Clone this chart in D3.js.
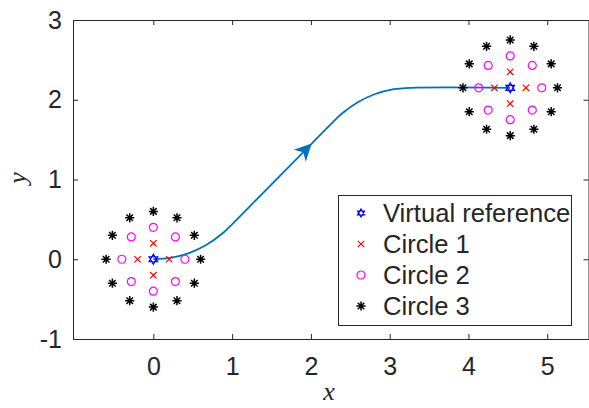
<!DOCTYPE html>
<html>
<head>
<meta charset="utf-8">
<script src="https://cdn.jsdelivr.net/npm/d3@7"></script>
<style>
  body { margin: 0; background: #fff; }
  text { font-family: "Liberation Sans", Arial, sans-serif; fill: #262626; }
</style>
</head>
<body>
<div id="chart"></div>
<script>
// centers of the circle groups (virtual reference start / end)
var refX = [0, 4.53];
var refY = [0, 2.15];

// offsets of the markers around each center
var c1Dx = [0.2, 0, -0.2, 0];
var c1Dy = [0, 0.2, 0, -0.2];
var c2Dx = [0.4, 0.28, 0, -0.28, -0.4, -0.28, 0, 0.28];
var c2Dy = [0, 0.28, 0.4, 0.28, 0, -0.28, -0.4, -0.28];
var c3Dx = [0.6, 0.52, 0.3, 0, -0.3, -0.52, -0.6, -0.52, -0.3, 0, 0.3, 0.52];
var c3Dy = [0, 0.3, 0.52, 0.6, 0.52, 0.3, 0, -0.3, -0.52, -0.6, -0.52, -0.3];

// trajectory
var pathX = [0, 0.234, 0.462, 0.675, 0.868, 0.955, 1.4, 1.87, 2.314, 2.402, 2.595, 2.808, 3.036, 3.27, 4.53];
var pathY = [0, 0.021, 0.081, 0.181, 0.316, 0.396, 0.84, 1.31, 1.754, 1.834, 1.969, 2.069, 2.13, 2.15, 2.15];
var arrowX = 2.01, arrowY = 1.45;

var xTicks = [0, 1, 2, 3, 4, 5];
var yTicks = [-1, 0, 1, 2, 3];
var legendLabels = ["Virtual reference", "Circle 1", "Circle 2", "Circle 3"];

var width = 589, height = 408;
var margin = {left: 73, right: 589, top: 20, bottom: 339};
var axisColor = "#262626";

var svg = d3.select("#chart").append("svg")
    .attr("width", width)
    .attr("height", height);

var x = d3.scaleLinear().domain([-1.02, 5.53]).range([margin.left, margin.right]);
var y = d3.scaleLinear().domain([-1, 3]).range([margin.bottom, margin.top]);

// axes (box with inward ticks)
function styleAxis(g) {
  g.select(".domain").attr("stroke", axisColor);
  g.selectAll(".tick line").attr("stroke", axisColor);
  g.selectAll(".tick text").attr("fill", axisColor).style("font-size", "25px");
}
var plain = function (d) { return String(d); };

svg.append("g")
    .attr("transform", "translate(0," + margin.bottom + ")")
    .call(d3.axisBottom(x).tickValues(xTicks).tickSizeInner(-5).tickSizeOuter(0).tickPadding(18).tickFormat(plain))
    .call(styleAxis);
svg.append("g")
    .attr("transform", "translate(0," + margin.top + ")")
    .call(d3.axisTop(x).tickValues(xTicks).tickSizeInner(-5).tickSizeOuter(0).tickFormat(""))
    .call(styleAxis);
svg.append("g")
    .attr("transform", "translate(" + margin.left + ",0)")
    .call(d3.axisLeft(y).tickValues(yTicks).tickSizeInner(-5).tickSizeOuter(0).tickPadding(11).tickFormat(plain))
    .call(styleAxis);
svg.append("g")
    .attr("transform", "translate(" + (margin.right - 0.5) + ",0)")
    .call(d3.axisRight(y).tickValues(yTicks).tickSizeInner(-5).tickSizeOuter(0).tickFormat(""))
    .call(styleAxis);

// axis labels
svg.append("text")
    .attr("x", (margin.left + margin.right) / 2 - 2)
    .attr("y", 400)
    .attr("text-anchor", "middle")
    .style("font-family", "'Liberation Serif', serif")
    .style("font-style", "italic")
    .style("font-size", "26px")
    .text("x");
svg.append("text")
    .attr("transform", "translate(26,178) rotate(-90)")
    .attr("text-anchor", "middle")
    .style("font-family", "'Liberation Serif', serif")
    .style("font-style", "italic")
    .style("font-size", "26px")
    .text("y");

// marker shapes
function hexagram(r) {
  var p = "";
  [[-90, 30, 150], [90, 210, 330]].forEach(function (tri) {
    tri.forEach(function (a, i) {
      var t = a * Math.PI / 180;
      p += (i ? "L" : "M") + (r * Math.cos(t)).toFixed(2) + "," + (r * Math.sin(t)).toFixed(2);
    });
    p += "Z";
  });
  return p;
}
function cross(r) {
  return "M" + -r + "," + -r + "L" + r + "," + r + "M" + -r + "," + r + "L" + r + "," + -r;
}
function asterisk(r) {
  var d = r * 0.7071;
  return "M" + -r + ",0L" + r + ",0M0," + -r + "L0," + r +
         "M" + -d + "," + -d + "L" + d + "," + d + "M" + -d + "," + d + "L" + d + "," + -d;
}

// trajectory
var pts = pathX.map(function (v, i) { return [x(v), y(pathY[i])]; });
svg.append("path")
    .attr("d", d3.line().curve(d3.curveCatmullRom)(pts))
    .attr("fill", "none")
    .attr("stroke", "#0072BD")
    .attr("stroke-width", 1.8);

// arrow head along the 45 degree section
var ang = Math.atan2(y(1.754) - y(0.396), x(2.314) - x(0.955)) * 180 / Math.PI;
svg.append("path")
    .attr("transform", "translate(" + x(arrowX) + "," + y(arrowY) + ") rotate(" + ang + ")")
    .attr("d", "M0,0L-17,-8.5L-12,0L-17,8.5Z")
    .attr("fill", "#0072BD");

// circle groups at both centers
var groups = [
  {dx: c3Dx, dy: c3Dy, shape: "ast"},
  {dx: c2Dx, dy: c2Dy, shape: "o"},
  {dx: c1Dx, dy: c1Dy, shape: "x"}
];

function drawMarker(g, shape, big) {
  if (shape === "o") {
    g.append("circle").attr("r", 4).attr("fill", "none").attr("stroke", "#ff00ff").attr("stroke-width", 1.2);
  } else if (shape === "x") {
    g.append("path").attr("d", cross(3.2)).attr("stroke", "#ff0000").attr("stroke-width", 1.2);
  } else if (shape === "ast") {
    g.append("path").attr("d", asterisk(4.6)).attr("stroke", "#000").attr("stroke-width", 1.5);
  } else {
    g.append("path").attr("d", hexagram(big ? 5 : 4)).attr("fill", "none").attr("stroke", "#0000ff").attr("stroke-width", 1.2);
  }
}

refX.forEach(function (cx, k) {
  var cy = refY[k];
  groups.forEach(function (grp) {
    grp.dx.forEach(function (d, i) {
      var g = svg.append("g")
          .attr("transform", "translate(" + x(cx + d) + "," + y(cy + grp.dy[i]) + ")");
      drawMarker(g, grp.shape, true);
    });
  });
  drawMarker(svg.append("g").attr("transform", "translate(" + x(cx) + "," + y(cy) + ")"), "hex", true);
});

// legend
var legend = svg.append("g");
legend.append("rect")
    .attr("x", 338.5).attr("y", 195.5)
    .attr("width", 233).attr("height", 130)
    .attr("fill", "#fff")
    .attr("stroke", axisColor)
    .attr("stroke-width", 1);

var legendShapes = ["hex", "x", "o", "ast"];
legendLabels.forEach(function (lab, i) {
  var ly = 213 + i * 31;
  var g = legend.append("g").attr("transform", "translate(361," + ly + ")");
  drawMarker(g, legendShapes[i], false);
  legend.append("text")
      .attr("x", 383)
      .attr("y", ly)
      .attr("dy", "0.36em")
      .style("font-size", "25.6px")
      .attr("fill", "#000")
      .text(lab);
});
</script>
</body>
</html>
